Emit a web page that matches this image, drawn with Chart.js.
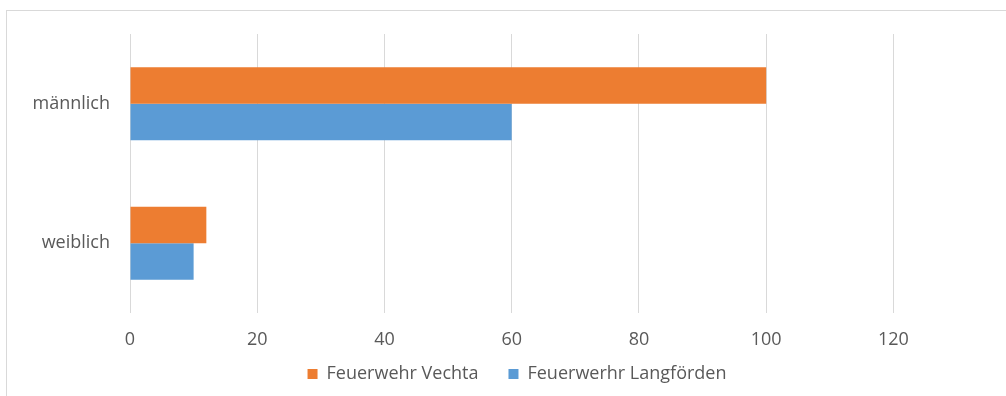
<!DOCTYPE html>
<html>
<head>
<meta charset="utf-8">
<script src="https://cdn.jsdelivr.net/npm/chart.js@4.4.0/dist/chart.umd.min.js"></script>
<style>
  html, body { margin: 0; padding: 0; background: #fff; }
  #wrap { position: relative; width: 1006px; height: 396px; }
  #frameTop { position: absolute; left: 6px; top: 10px; width: 1000px; height: 0; border-top: 1px solid #d9d9d9; }
  #frameLeft { position: absolute; left: 6px; top: 10px; width: 0; height: 386px; border-left: 1px solid #d9d9d9; }
  canvas { position: absolute; left: 0; top: 0; }
</style>
</head>
<body>
<div id="wrap">
  <canvas id="chart" width="1006" height="396"></canvas>
  <div id="frameTop"></div>
  <div id="frameLeft"></div>
</div>
<script>
// Data
const categories = ['männlich', 'weiblich'];
const vechta = [100, 12];
const langfoerden = [60, 10];
const seriesNames = ['Feuerwehr Vechta', 'Feuerwerhr Langförden'];
const tickMax = 120;

const textColor = '#595959';
const font = { family: "'Open Sans', sans-serif", size: 18 };

// squeeze the legend box and pull it up under the axis labels
const legendFix = {
  id: 'legendFix',
  beforeInit(chart) {
    const legend = chart.legend;
    const origFit = legend.fit;
    legend.fit = function() {
      origFit.call(this);
      this.height = 44;
    };
  },
  afterLayout(chart) {
    chart.legend.top -= 17;
    chart.legend.bottom = chart.height;
  }
};

const ctx = document.getElementById('chart').getContext('2d');
const chart = new Chart(ctx, {
  type: 'bar',
  data: {
    labels: categories,
    datasets: [
      { label: seriesNames[0], data: vechta, backgroundColor: '#ED7D31' },
      { label: seriesNames[1], data: langfoerden, backgroundColor: '#5B9BD5' }
    ]
  },
  options: {
    indexAxis: 'y',
    responsive: false,
    animation: false,
    devicePixelRatio: 1,
    categoryPercentage: 0.523,
    barPercentage: 1,
    layout: { padding: { left: 28, right: 0, top: 34, bottom: 0 } },
    scales: {
      x: {
        min: 0,
        max: 137.7, // plot area runs past the last labelled gridline
        afterBuildTicks: scale => { scale.ticks = scale.ticks.filter(t => t.value <= tickMax); },
        afterFit: scale => { scale.height = 39; },
        ticks: { stepSize: 20, color: textColor, font, padding: 16 },
        grid: { color: '#d9d9d9', drawTicks: false },
        border: { display: false }
      },
      y: {
        afterFit: scale => { scale.width = 102; },
        ticks: { color: textColor, font, padding: 12 },
        grid: { display: false },
        border: { display: false }
      }
    },
    plugins: {
      legend: {
        position: 'bottom',
        labels: { color: textColor, font, boxWidth: 10, boxHeight: 10, padding: 30 }
      },
      tooltip: { enabled: false }
    }
  },
  plugins: [legendFix]
});
</script>
</body>
</html>
